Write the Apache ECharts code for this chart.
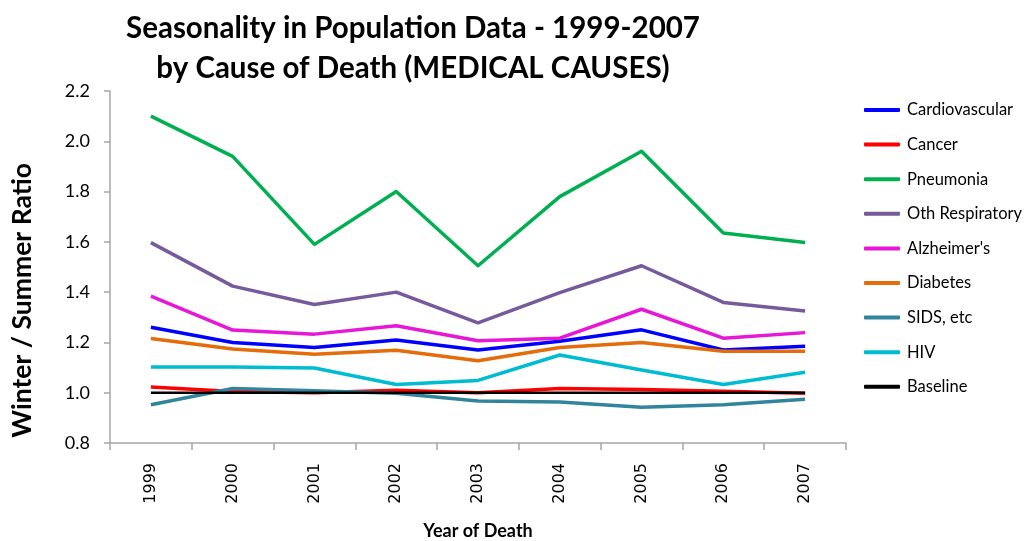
<!DOCTYPE html>
<html>
<head>
<meta charset="utf-8">
<script src="https://cdn.jsdelivr.net/npm/echarts@6/dist/echarts.min.js"></script>
<style>
  html, body { margin: 0; padding: 0; background: #fff; }
  #chart { width: 1025px; height: 541px; }
</style>
</head>
<body>
<div id="chart"></div>
<script>
// Winter/summer mortality ratios by medical cause, 1999-2007
const years = ['1999', '2000', '2001', '2002', '2003', '2004', '2005', '2006', '2007'];

const cardiovascular = [1.26, 1.20, 1.18, 1.21, 1.17, 1.205, 1.25, 1.17, 1.185];
const cancer         = [1.023, 1.005, 1.0, 1.01, 1.0, 1.017, 1.013, 1.006, 0.998];
const pneumonia      = [2.10, 1.94, 1.59, 1.80, 1.505, 1.78, 1.96, 1.635, 1.597];
const othRespiratory = [1.597, 1.424, 1.351, 1.40, 1.278, 1.398, 1.505, 1.359, 1.325];
const alzheimers     = [1.384, 1.249, 1.233, 1.266, 1.207, 1.217, 1.332, 1.217, 1.239];
const diabetes       = [1.216, 1.174, 1.153, 1.169, 1.127, 1.18, 1.20, 1.165, 1.165];
const sids           = [0.952, 1.017, 1.008, 0.998, 0.967, 0.963, 0.942, 0.952, 0.974];
const hiv            = [1.102, 1.102, 1.098, 1.033, 1.049, 1.15, 1.09, 1.033, 1.081];
const baseline       = [1.0, 1.0, 1.0, 1.0, 1.0, 1.0, 1.0, 1.0, 1.0];

const seriesDefs = [
  { name: 'Cardiovascular',  data: cardiovascular, color: '#0000FF' },
  { name: 'Cancer',          data: cancer,         color: '#FF0000' },
  { name: 'Pneumonia',       data: pneumonia,      color: '#00B050' },
  { name: 'Oth Respiratory', data: othRespiratory, color: '#775A9C' },
  { name: "Alzheimer's",     data: alzheimers,     color: '#E617D6' },
  { name: 'Diabetes',        data: diabetes,       color: '#E46C0A' },
  { name: 'SIDS, etc',       data: sids,           color: '#31849B' },
  { name: 'HIV',             data: hiv,            color: '#00BCD0' },
  { name: 'Baseline',        data: baseline,       color: '#000000', width: 2.5 }
];

const font = 'Lato, "Open Sans", "DejaVu Sans", sans-serif';
const axisGray = '#A6A6A6';

const chart = echarts.init(document.getElementById('chart'), null, { renderer: 'canvas' });

chart.setOption({
  animation: false,
  backgroundColor: '#ffffff',
  title: {
    text: 'Seasonality in Population Data - 1999-2007\nby Cause of Death (MEDICAL CAUSES)',
    left: 408,
    top: 3,
    textAlign: 'center',
    textStyle: {
      fontFamily: font,
      fontWeight: 'bold',
      fontSize: 29.5,
      lineHeight: 40,
      color: '#000'
    }
  },
  legend: {
    orient: 'vertical',
    left: 859,
    top: 96,
    icon: 'roundRect',
    itemWidth: 36,
    itemHeight: 4,
    itemGap: 16.6,
    textStyle: {
      fontFamily: font,
      fontSize: 16.5,
      lineHeight: 18,
      color: '#000',
      padding: [0, 0, 0, 2]
    },
    data: seriesDefs.map(s => s.name)
  },
  // y-axis title sits slightly below the axis midpoint
  graphic: [{
    type: 'text',
    left: 9,
    top: 163,
    rotation: Math.PI / 2,
    style: {
      text: 'Winter / Summer Ratio',
      fontFamily: font,
      fontWeight: 'bold',
      fontSize: 26.5,
      fill: '#000'
    }
  }],
  grid: {
    left: 110,
    right: 179,
    top: 91,
    bottom: 98,
    containLabel: false,
    outerBoundsMode: 'none'
  },
  xAxis: {
    type: 'category',
    data: years,
    boundaryGap: true,
    name: 'Year of Death',
    nameLocation: 'middle',
    nameGap: 79,
    nameTextStyle: {
      fontFamily: font,
      fontWeight: 'bold',
      fontSize: 18,
      color: '#000'
    },
    axisLine: { lineStyle: { color: axisGray, width: 1.5 } },
    axisTick: { show: true, alignWithLabel: false, length: 7, lineStyle: { color: axisGray, width: 1.5 } },
    axisLabel: {
      rotate: 90,
      margin: 20,
      fontFamily: '"DejaVu Sans", sans-serif',
      fontSize: 16,
      color: '#000'
    },
    splitLine: { show: false }
  },
  yAxis: {
    type: 'value',
    min: 0.8,
    max: 2.2,
    interval: 0.2,
    axisLine: { show: true, lineStyle: { color: axisGray, width: 1.5 } },
    axisTick: { show: true, length: 6, lineStyle: { color: axisGray, width: 1.5 } },
    axisLabel: {
      margin: 20,
      fontFamily: font,
      fontSize: 18,
      color: '#000',
      formatter: v => v.toFixed(1)
    },
    splitLine: { show: false }
  },
  series: seriesDefs.map(s => ({
    name: s.name,
    type: 'line',
    data: s.data,
    symbol: 'none',
    showSymbol: false,
    color: s.color,
    lineStyle: { color: s.color, width: s.width || 3.5, join: 'round' },
    itemStyle: { color: s.color }
  }))
});
</script>
</body>
</html>
